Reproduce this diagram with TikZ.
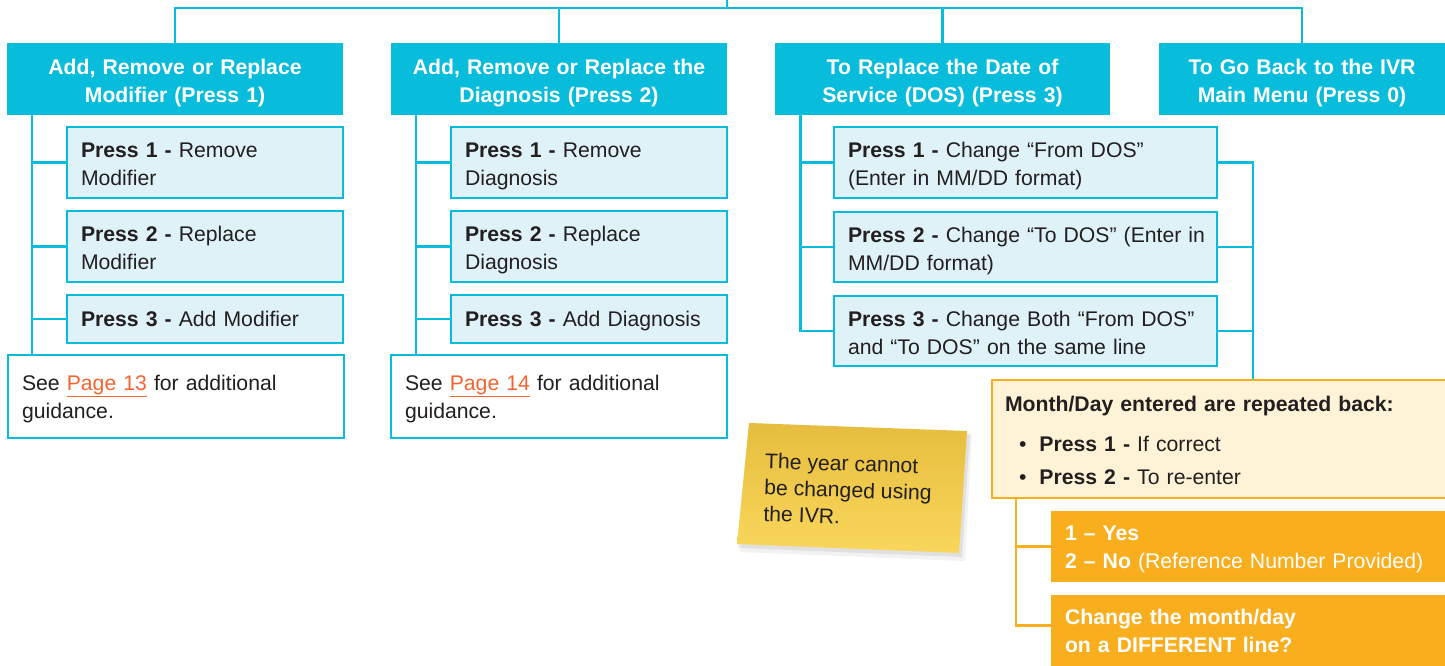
\documentclass[tikz,border=0pt]{standalone}
\usepackage{fontspec}
\setmainfont{Liberation Sans}
\usetikzlibrary{calc}
\definecolor{cyanC}{HTML}{08BCDB}
\definecolor{subF}{HTML}{DFF2F8}
\definecolor{txt}{HTML}{231F20}
\definecolor{linkC}{HTML}{F26531}
\definecolor{monF}{HTML}{FEF3D6}
\definecolor{orC}{HTML}{F9AE1E}
\definecolor{noteTop}{HTML}{E6BD3E}
\definecolor{noteBot}{HTML}{F9D75C}
\newcommand\fs{\fontsize{21.2pt}{28pt}\selectfont}
\newcommand\tstrut[1]{\rule{0pt}{#1pt}}
\newcommand\bstrut{\rule[-5pt]{0pt}{5pt}}
\begin{document}
\begin{tikzpicture}[x=1pt,y=-1pt,
  every node/.style={font=\fs},
  hdr/.style={fill=cyanC, text=white, font=\fs\bfseries, align=center, inner sep=0pt, minimum height=72, execute at begin node={\tstrut{23.5}}, execute at end node={\bstrut}},
  subbase/.style={fill=subF, draw=cyanC, line width=1.3pt, text=txt, align=left, inner xsep=14pt, inner ysep=0pt, minimum width=#1, text width=#1-28, execute at end node={\bstrut}},
  subbox/.style={subbase=#1, execute at begin node={\tstrut{23}}},
  onebox/.style={subbase=276, minimum height=48, execute at begin node={\tstrut{19}}},
  seebox/.style={fill=white, draw=cyanC, line width=1.3pt, text=txt, align=left, inner xsep=14pt, inner ysep=0pt, minimum width=336, text width=308, minimum height=83, execute at begin node={\tstrut{21.5}}, execute at end node={\bstrut}},
  conn/.style={draw=cyanC, line width=2.5pt},
  oconn/.style={draw=orC, line width=2.5pt},
  orbox/.style={fill=orC, text=white, align=left, inner xsep=14pt, inner ysep=0pt, minimum width=396, text width=368, minimum height=71, execute at begin node={\tstrut{21.5}}, execute at end node={\bstrut}}
]
\useasboundingbox (0,0) rectangle (1445,666);
\fill[white] (0,0) rectangle (1445,666);

% headers
\node[hdr, minimum width=336, text width=330] (H1) at (175,79) {Add, Remove or Replace\\Modifier (Press 1)};
\node[hdr, minimum width=336, text width=330] (H2) at (559,79) {Add, Remove or Replace the\\Diagnosis (Press 2)};
\node[hdr, minimum width=335, text width=330] (H3) at (942.5,79) {To Replace the Date of\\Service (DOS) (Press 3)};
\node[hdr, minimum width=286, text width=280] (H4) at (1302,79) {To Go Back to the IVR\\Main Menu (Press 0)};

% top bus
\coordinate (root) at (727,-3);
\coordinate (bus) at (727,8);
\draw[conn] (H1.north) -- (H1.north |- bus) -- (H4.north |- bus) -- (H4.north);
\draw[conn] (H2.north) -- (H2.north |- bus);
\draw[conn] (H3.north) -- (H3.north |- bus);
\draw[conn] (root) -- (bus);

% column 1
\node[subbox=276, minimum height=71] (s11) at (205,162.5) {\textbf{Press 1 -} Remove\\Modifier};
\node[subbox=276, minimum height=71] (s12) at (205,246.5) {\textbf{Press 2 -} Replace\\Modifier};
\node[onebox] (s13) at (205,319) {\textbf{Press 3 -} Add Modifier};
\node[seebox] (see1) at (176,396.5) {See \textcolor{linkC}{\underline{Page 13}} for additional\\guidance.};
\coordinate (a1) at (32,0);
\draw[conn] (a1 |- H1.south) -- (a1 |- see1.north);
\draw[conn] (a1 |- s11.west) -- (s11.west);
\draw[conn] (a1 |- s12.west) -- (s12.west);
\draw[conn] (a1 |- s13.west) -- (s13.west);

% column 2
\node[subbox=276, minimum height=71] (s21) at (589,162.5) {\textbf{Press 1 -} Remove\\Diagnosis};
\node[subbox=276, minimum height=71] (s22) at (589,246.5) {\textbf{Press 2 -} Replace\\Diagnosis};
\node[onebox] (s23) at (589,319) {\textbf{Press 3 -} Add Diagnosis};
\node[seebox] (see2) at (559,396.5) {See \textcolor{linkC}{\underline{Page 14}} for additional\\guidance.};
\coordinate (a2) at (416,0);
\draw[conn] (a2 |- H2.south) -- (a2 |- see2.north);
\draw[conn] (a2 |- s21.west) -- (s21.west);
\draw[conn] (a2 |- s22.west) -- (s22.west);
\draw[conn] (a2 |- s23.west) -- (s23.west);

% column 3
\node[subbox=383, minimum height=71] (s31) at (1025.5,162.5) {\textbf{Press 1 -} Change “From DOS”\\(Enter in MM/DD format)};
\node[subbox=383, minimum height=70] (s32) at (1025.5,247) {\mbox{\textbf{Press 2 -} Change “To DOS” (Enter in}\\MM/DD format)};
\node[subbox=383, minimum height=70] (s33) at (1025.5,331) {\mbox{\textbf{Press 3 -} Change Both “From DOS”}\\and “To DOS” on the same line};
\coordinate (a3) at (800.5,0);
\coordinate (b3) at (1253,0);
\draw[conn] (a3 |- H3.south) -- (a3 |- s33.west) -- (s33.west);
\draw[conn] (a3 |- s31.west) -- (s31.west);
\draw[conn] (a3 |- s32.west) -- (s32.west);

% month/day box
\node[fill=monF, draw=orC, line width=1.3pt, text=txt, align=left, inner xsep=13pt, inner ysep=0pt, minimum width=457, text width=431, minimum height=118, execute at begin node={\tstrut{22}}, execute at end node={\bstrut}] (mon) at (1220.5,439)
 {\textbf{Month/Day entered are repeated back:}\\[12pt]
  \hspace*{14pt}\textbullet\hspace{13pt}\textbf{Press 1 -} If correct\\[5pt]
  \hspace*{14pt}\textbullet\hspace{13pt}\textbf{Press 2 -} To re-enter};
\draw[conn] (s31.east) -- (b3 |- s31.east) -- (b3 |- mon.north);
\draw[conn] (s32.east) -- (b3 |- s32.east);
\draw[conn] (s33.east) -- (b3 |- s33.east);

% orange boxes
\node[orbox] (oA) at (1249,546.5) {\textbf{1 – Yes}\\\textbf{2 – No} (Reference Number Provided)};
\node[orbox, font=\fs\bfseries] (oB) at (1249,630.5) {Change the month/day\\on a DIFFERENT line?};
\coordinate (c1) at (1016,0);
\draw[oconn] (c1 |- mon.south) -- ($(c1 |- oB.west)+(0,-5)$) -- ($(oB.west)+(0,-5)$);
\draw[oconn] (c1 |- oA.west) -- (oA.west);

% sticky note
\coordinate (n1) at (749,423);
\coordinate (n2) at (967,431);
\coordinate (n3) at (959,553);
\coordinate (n4) at (737,544);
\fill[black, opacity=0.05] ($(n1)+(2,4)$) -- ($(n2)+(5,4)$) -- ($(n3)+(6,8)$) -- ($(n4)+(3,8)$) -- cycle;
\fill[black, opacity=0.07] ($(n1)+(1,2)$) -- ($(n2)+(3,2)$) -- ($(n3)+(3,4)$) -- ($(n4)+(1,4)$) -- cycle;
\shade[top color=noteTop, bottom color=noteBot] (n1) -- (n2) -- (n3) -- (n4) -- cycle;
\node[rotate=-1.8, align=left, text=txt, inner sep=0pt, font=\fontsize{21.2pt}{26.5pt}\selectfont] (notetxt) at (848,490) {The year cannot\\be changed using\\the IVR.};
\end{tikzpicture}
\end{document}
